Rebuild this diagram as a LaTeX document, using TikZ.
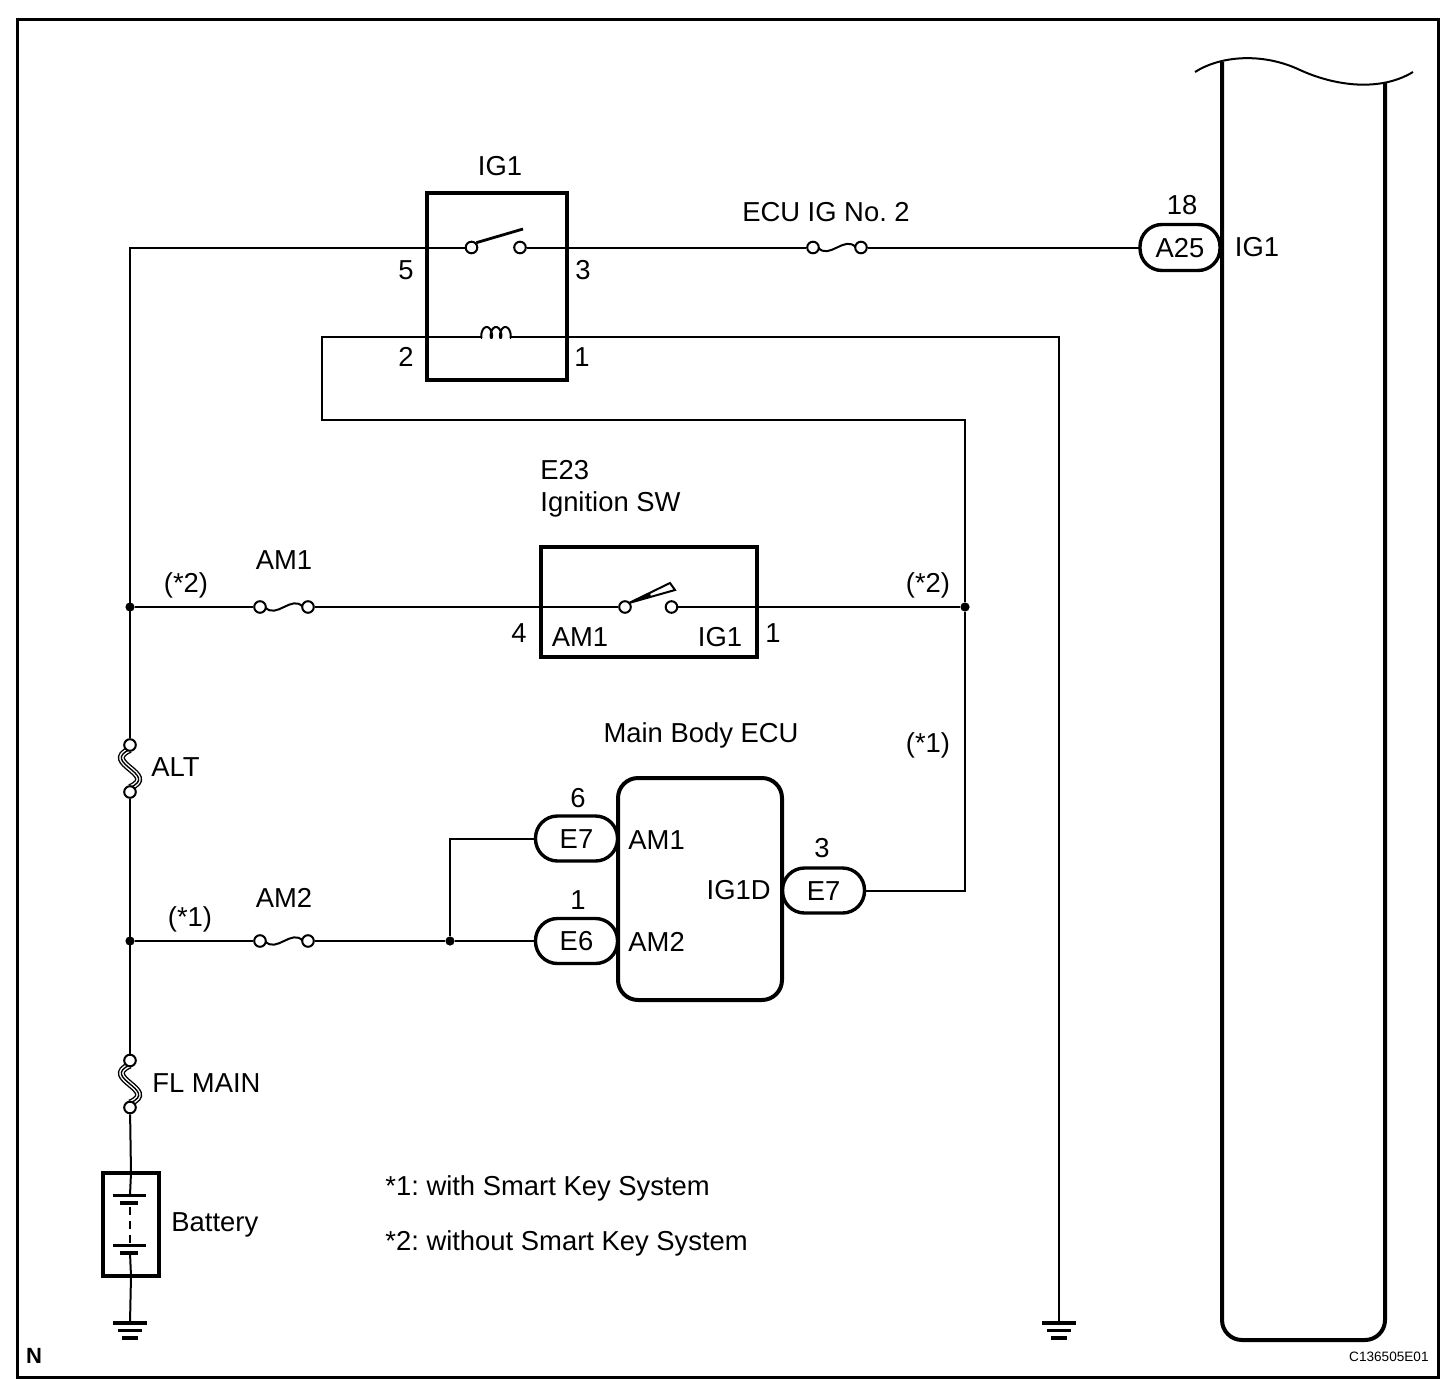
\documentclass[tikz,border=0pt]{standalone}
\usepackage{fontspec}
\setmainfont{Liberation Sans}
\tikzset{
  wire/.style={line width=1pt},
  boxline/.style={draw, line width=2pt, inner sep=0pt, outer sep=0pt},
  lbl/.style={font=\fontsize{13.7}{16}\selectfont, text height=9.8pt, text depth=0pt, inner sep=0pt},
  pill/.style={draw, line width=1.7pt, rounded corners=11pt, minimum width=41pt, minimum height=22.5pt, inner sep=0pt, outer sep=0pt, lbl},
  dot/.style={circle, fill, inner sep=0pt, minimum size=4.6pt},
  fusecirc/.style={circle, draw, fill=white, line width=1pt, inner sep=0pt, minimum size=5.8pt},
  hfuse/.pic={
    \draw[wire] (-19,0) .. controls (-8,13) and (8,-13) .. (19,0);
    \node[fusecirc] (-l) at (-24,0) {};
    \node[fusecirc] (-r) at (24,0) {};
  },
  vfuse/.pic={
    \draw[line width=3.5pt] (0,-19) .. controls (-30,-6) and (30,6) .. (0,19);
    \draw[line width=2.1pt, white] (0,-19) .. controls (-30,-6) and (30,6) .. (0,19);
    \draw[line width=0.7pt] (0,-19) .. controls (-30,-6) and (30,6) .. (0,19);
    \node[fusecirc] (-t) at (0,-23.5) {};
    \node[fusecirc] (-b) at (0,23.5) {};
  },
  gnd/.pic={
    \coordinate (-top) at (0,0);
    \draw[line width=2pt] (-17,0) -- (17,0);
    \draw[line width=1.6pt] (-12,7.5) -- (12,7.5);
    \draw[line width=1.6pt] (-8,15) -- (8,15);
  },
}
\begin{document}
\frenchspacing
\begin{tikzpicture}[x=0.5pt,y=-0.5pt]
\useasboundingbox (0,0) rectangle (1456,1392);
% frame
\draw[line width=1.5pt] (17,19) rectangle (1438,1377);

% ---------- relay IG1 ----------
\node[boxline, minimum width=70pt, minimum height=93.5pt] (relay) at (497,286.5) {};
\node[lbl] (relayname) at (500,166) {IG1};
\node[lbl] (p5) at (406,270) {5};
\node[lbl] (p3) at (583,270) {3};
\node[lbl] (p2) at (406,357) {2};
\node[lbl] (p1) at (582,357) {1};
\node[fusecirc] (c5) at (471.5,247.5) {};
\node[fusecirc] (c3) at (520,247.5) {};
\draw[line width=1.4pt] (c5.north east) -- (523,229);
\coordinate (coilL) at (482,337);
\coordinate (coilR) at (510,337);
\draw[wire] plot[domain=0:6*pi, samples=150, variable=\t] ({482+1.485*\t - 2.6*sin(\t r)}, {338 - 5.5*(1-cos(\t r))});

% ---------- left bus ----------
\coordinate (tl) at (130,247.5);
\node[dot] (j1) at (130,607) {};
\node[dot] (j3) at (130,941) {};
\pic (alt) at (130,768.5) {vfuse};
\pic (flm) at (130,1084) {vfuse};
\node[lbl, anchor=west] (altl) at (151,767) {ALT};
\node[lbl, anchor=west] (flml) at (152,1083) {FL MAIN};
\node[boxline, minimum width=28pt, minimum height=51.5pt] (bat) at (131,1224.5) {};
\node[lbl, anchor=west] (batl) at (171,1222) {Battery};
\pic (g1) at (130,1323) {gnd};
\draw[wire] (c5) -- (tl) -- (alt-t);
\draw[wire] (alt-b) -- (flm-t);
\draw[wire] (flm-b) -- (bat.north);
\draw[wire] (bat.north) -- (130,1195);
\draw[line width=1.5pt] (113,1195) -- (146,1195);
\draw[line width=2.2pt] (120,1203) -- (138,1203);
\draw[wire, dash pattern=on 4pt off 3pt] (130,1207) -- (130,1245);
\draw[line width=1.5pt] (113,1245) -- (146,1245);
\draw[line width=2.2pt] (120,1253) -- (138,1253);
\draw[wire] (130,1253) -- (bat.south) -- (g1-top);

% ---------- ECU IG No. 2 and A25 ----------
\pic (fig) at (837,247.5) {hfuse};
\node[lbl] (figl) at (826,212) {ECU IG No. 2};
\node[pill, minimum width=40pt, minimum height=23pt] (a25) at (1180,247.5) {A25};
\node[lbl] (a25n) at (1182,205) {18};
\node[lbl] (a25p) at (1257,247) {IG1};
\draw[wire] (c3) -- (fig-l);
\draw[wire] (fig-r) -- (a25.west);

% tall ECU body
\draw[line width=1pt] (1195,72) .. controls (1220,56) and (1262,52) .. (1300,70) .. controls (1335,86) and (1380,92) .. (1413,72);
\draw[line width=2pt, rounded corners=10pt] (1222,62) -- (1222,1340) -- (1385,1340) -- (1385,83);

% ---------- ignition switch E23 ----------
\node[boxline, minimum width=108pt, minimum height=55pt] (ign) at (649,602) {};
\node[lbl, anchor=west] (ignl1) at (540,470) {E23};
\node[lbl, anchor=west] (ignl2) at (540,502) {Ignition SW};
\node[lbl] (ip4) at (519,633) {4};
\node[lbl] (ipam1) at (580,637) {AM1};
\node[lbl] (ipig1) at (720,637) {IG1};
\node[lbl] (ip1) at (773,633) {1};
\node[fusecirc] (s4) at (625,607) {};
\node[fusecirc] (s1) at (671.5,607) {};
\draw[line width=1pt] (629,603) -- (670,583) -- (675,590) -- cycle;
\fill (629,603) -- (650,593) -- (651,597) -- cycle;
\pic (fam1) at (284,607) {hfuse};
\node[lbl] (fam1l) at (284,560) {AM1};
\node[lbl] (star2a) at (186,583) {(*2)};
\node[lbl] (star2b) at (928,583) {(*2)};
\node[dot] (j2) at (965,607) {};
\draw[wire] (j1) -- (fam1-l);
\draw[wire] (fam1-r) -- (s4);
\draw[wire] (s1) -- (j2);

% ---------- main body ECU ----------
\node[boxline, rounded corners=10pt, minimum width=82pt, minimum height=111pt] (ecu) at (700,889) {};
\node[lbl] (ecul) at (701,733) {Main Body ECU};
\node[lbl] (star1b) at (928,743) {(*1)};
\node[pill] (e7a) at (576.5,838.5) {E7};
\node[pill] (e6) at (576.5,941) {E6};
\node[pill] (e7b) at (823.5,890.5) {E7};
\node[lbl] (e7an) at (578,798) {6};
\node[lbl] (e6n) at (578,900) {1};
\node[lbl] (e7bn) at (822,848) {3};
\node[lbl, anchor=west] (eam1) at (628,840) {AM1};
\node[lbl, anchor=west] (eam2) at (628,942) {AM2};
\node[lbl, anchor=east] (eig) at (771,890) {IG1D};
\pic (fam2) at (284,941) {hfuse};
\node[lbl] (fam2l) at (284,898) {AM2};
\node[lbl] (star1a) at (190,917) {(*1)};
\node[dot] (j4) at (450,941) {};
\draw[wire] (j3) -- (fam2-l);
\draw[wire] (fam2-r) -- (j4) -- (e6.west);
\draw[wire] (j4) -- (450,838.5) -- (e7a.west);

% relay coil circuit
\pic (g2) at (1059,1323) {gnd};
\draw[wire] (e7b.east) -- (965,890.5) -- (j2) -- (965,420) -- (322,420) -- (322,337) -- (coilL);
\draw[wire] (coilR) -- (1059,337) -- (g2-top);

% notes
\node[lbl, anchor=west] (note1) at (385,1186) {*1: with Smart Key System};
\node[lbl, anchor=west] (note2) at (385,1241) {*2: without Smart Key System};
\node[font=\bfseries\fontsize{11}{13}\selectfont, inner sep=0pt] (nl) at (34,1356) {N};
\node[font=\fontsize{6.8}{8}\selectfont, anchor=east, inner sep=0pt] (code) at (1429,1357) {C136505E01};
\end{tikzpicture}
\end{document}
